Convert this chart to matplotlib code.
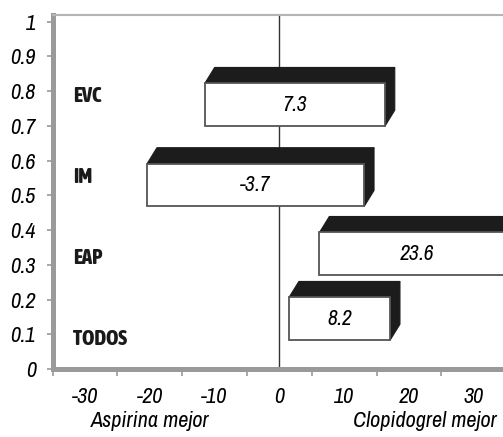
import matplotlib
matplotlib.use("Agg")
import matplotlib.pyplot as plt
from matplotlib.patches import Polygon, Rectangle


# ===== data =====
groups = ["TODOS", "EAP", "IM", "EVC"]
value_text = ["8.2", "23.6", "-3.7", "7.3"]
lows = [1.5, 6.2, -20.4, -11.5]
highs = [17.1, 36.2, 13.1, 16.3]
bottoms = [0.083, 0.270, 0.468, 0.699]
group_y = [0.086, 0.319, 0.552, 0.785]
xticks = [-30, -20, -10, 0, 10, 20, 30]
xminor = [-35, -25, -15, -5, 5, 15, 25]
yticks = [0, 0.1, 0.2, 0.3, 0.4, 0.5, 0.6, 0.7, 0.8, 0.9, 1]
x_titles = ["Aspirina mejor", "Clopidogrel mejor"]

bar_h = 0.123
dx, dy = 1.52, 0.046

plt.rcParams["font.family"] = ["Archivo Narrow", "DejaVu Sans"]

fig = plt.figure(figsize=(5.03, 4.37), dpi=100)
ax = fig.add_axes([52.5 / 503, 68 / 437, 486 / 503, 354 / 437])
ax.set_xlim(-34.07, 40)
ax.set_ylim(0, 1.019)

# zero line
ax.axvline(0, color="#333333", lw=1.0, zorder=1)

for lo, hi, b, txt in zip(lows, highs, bottoms, value_text):
    t = b + bar_h
    top = Polygon([(lo, t), (lo + dx, t + dy), (hi + dx, t + dy), (hi, t)],
                  closed=True, fc="#1c1c1c", ec="#1c1c1c", lw=0.8, zorder=3)
    side = Polygon([(hi, b), (hi, t), (hi + dx, t + dy), (hi + dx, b + dy)],
                   closed=True, fc="#1c1c1c", ec="#1c1c1c", lw=0.8, zorder=3)
    front = Rectangle((lo, b), hi - lo, bar_h, fc="white", ec="#555555", lw=1.3, zorder=4)
    ax.add_patch(top)
    ax.add_patch(side)
    ax.add_patch(front)
    ax.text((lo + hi) / 2, b + bar_h / 2, txt, ha="center", va="center",
            fontsize=15.5, style="italic", zorder=5)

# group names, heavy condensed
for g, y in zip(groups, group_y):
    ax.text(-31.8, y, g, ha="left", va="center", fontsize=15, fontweight=800,
            family=["Asap Condensed", "Barlow Condensed", "DejaVu Sans"], color="#1a1a1a")

# spines like the 3D wall
for s in ["left", "bottom"]:
    ax.spines[s].set_color("#9a9a9a")
    ax.spines[s].set_linewidth(3.6)
ax.spines["top"].set_color("#b5b5b5")
ax.spines["top"].set_linewidth(1.5)
ax.spines["right"].set_visible(False)

ax.set_yticks(yticks)
ax.set_yticklabels([f"{v:g}" for v in yticks], fontsize=16, style="italic")
ax.tick_params(axis="y", length=4, width=1.2, color="#9a9a9a", pad=8)

ax.set_xticks(xticks)
ax.set_xticklabels([str(v) for v in xticks], fontsize=16, style="italic")
ax.set_xticks(xminor, minor=True)
ax.tick_params(axis="x", which="major", length=0, pad=13)
ax.tick_params(axis="x", which="minor", length=5, width=1.2, color="#9a9a9a")

fig.text(150 / 503, 1 - 421 / 437, x_titles[0], ha="center", va="center", fontsize=16, style="italic")
fig.text(425 / 503, 1 - 421 / 437, x_titles[1], ha="center", va="center", fontsize=16, style="italic")

plt.savefig("out.png", dpi=100)
plt.close()
